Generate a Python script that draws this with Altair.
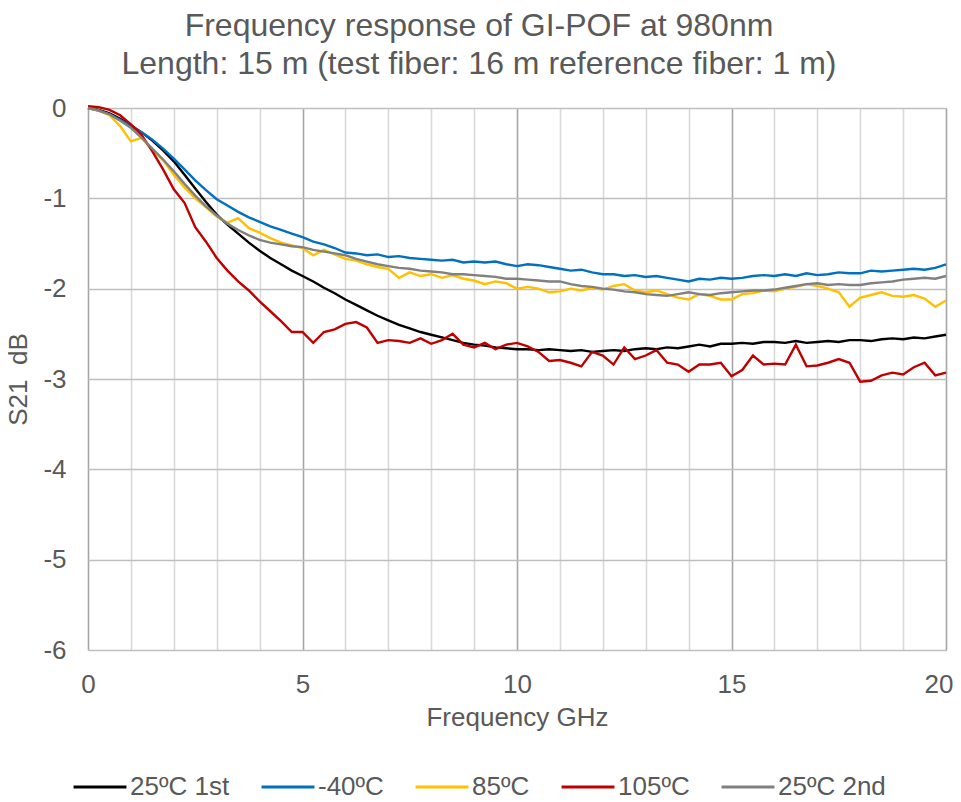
import altair as alt
import pandas as pd

# Frequency axis (GHz), 0.25 GHz steps
freq = [i * 0.25 for i in range(81)]

s21_25c_1st = [
    0.00, -0.02, -0.06, -0.12, -0.19, -0.27, -0.36, -0.47, -0.59, -0.74,
    -0.89, -1.04, -1.18, -1.29, -1.39, -1.49, -1.58, -1.66, -1.73, -1.80,
    -1.86, -1.92, -1.99, -2.05, -2.12, -2.18, -2.24, -2.30, -2.35, -2.40,
    -2.44, -2.48, -2.51, -2.54, -2.57, -2.60, -2.62, -2.63, -2.65, -2.66,
    -2.67, -2.67, -2.68, -2.67, -2.68, -2.69, -2.68, -2.70, -2.69, -2.68,
    -2.69, -2.67, -2.66, -2.67, -2.65, -2.66, -2.64, -2.62, -2.64, -2.61,
    -2.61, -2.60, -2.61, -2.59, -2.59, -2.60, -2.58, -2.60, -2.59, -2.58,
    -2.59, -2.57, -2.57, -2.58, -2.56, -2.55, -2.56, -2.54, -2.55, -2.53,
    -2.51,
]

s21_m40c = [
    0.00, -0.03, -0.07, -0.13, -0.20, -0.27, -0.35, -0.45, -0.56, -0.68,
    -0.80, -0.91, -1.01, -1.08, -1.15, -1.21, -1.26, -1.31, -1.35, -1.39,
    -1.43, -1.48, -1.51, -1.55, -1.60, -1.61, -1.63, -1.62, -1.65, -1.64,
    -1.66, -1.67, -1.68, -1.69, -1.68, -1.71, -1.70, -1.71, -1.70, -1.73,
    -1.75, -1.73, -1.74, -1.76, -1.78, -1.80, -1.79, -1.82, -1.84, -1.84,
    -1.86, -1.85, -1.87, -1.86, -1.88, -1.90, -1.92, -1.89, -1.90, -1.88,
    -1.89, -1.88, -1.86, -1.85, -1.86, -1.84, -1.86, -1.83, -1.85, -1.84,
    -1.82, -1.83, -1.83, -1.80, -1.81, -1.80, -1.79, -1.78, -1.79, -1.77,
    -1.73,
]

s21_85c = [
    0.00, -0.03, -0.08, -0.20, -0.37, -0.33, -0.46, -0.58, -0.74, -0.88,
    -1.00, -1.10, -1.20, -1.27, -1.22, -1.33, -1.38, -1.44, -1.49, -1.52,
    -1.55, -1.63, -1.57, -1.62, -1.67, -1.69, -1.73, -1.76, -1.78, -1.88,
    -1.82, -1.86, -1.84, -1.88, -1.85, -1.89, -1.91, -1.95, -1.92, -1.94,
    -2.00, -1.98, -2.00, -2.04, -2.03, -2.00, -2.02, -1.99, -2.01, -1.97,
    -1.95, -2.02, -2.04, -2.02, -2.06, -2.10, -2.12, -2.06, -2.08, -2.12,
    -2.12, -2.06, -2.05, -2.02, -2.03, -2.00, -1.98, -1.95, -1.97, -2.00,
    -2.04, -2.20, -2.10, -2.07, -2.04, -2.08, -2.09, -2.07, -2.11, -2.20,
    -2.13,
]

s21_105c = [
    0.02, 0.01, -0.02, -0.08, -0.18, -0.30, -0.48, -0.68, -0.90, -1.05,
    -1.32, -1.48, -1.66, -1.80, -1.92, -2.02, -2.14, -2.25, -2.36, -2.48,
    -2.48, -2.60, -2.48, -2.45, -2.39, -2.37, -2.43, -2.60, -2.57, -2.58,
    -2.60, -2.55, -2.61, -2.57, -2.50, -2.62, -2.65, -2.60, -2.67, -2.62,
    -2.60, -2.64, -2.70, -2.80, -2.79, -2.82, -2.86, -2.70, -2.74, -2.84,
    -2.65, -2.78, -2.74, -2.68, -2.82, -2.84, -2.92, -2.84, -2.84, -2.82,
    -2.97, -2.90, -2.74, -2.84, -2.83, -2.84, -2.62, -2.86, -2.85, -2.82,
    -2.78, -2.82, -3.03, -3.02, -2.96, -2.93, -2.95, -2.87, -2.82, -2.96,
    -2.93,
]

s21_25c_2nd = [
    0.00, -0.03, -0.07, -0.14, -0.22, -0.33, -0.45, -0.57, -0.70, -0.84,
    -0.97, -1.09, -1.19, -1.28, -1.35, -1.41, -1.46, -1.49, -1.51, -1.53,
    -1.54, -1.57, -1.59, -1.61, -1.63, -1.67, -1.70, -1.73, -1.75, -1.77,
    -1.78, -1.80, -1.81, -1.82, -1.84, -1.84, -1.85, -1.86, -1.87, -1.89,
    -1.89, -1.90, -1.91, -1.92, -1.92, -1.95, -1.97, -1.98, -2.00, -2.01,
    -2.03, -2.04, -2.06, -2.07, -2.08, -2.06, -2.04, -2.06, -2.07, -2.05,
    -2.04, -2.03, -2.02, -2.02, -2.01, -1.99, -1.97, -1.95, -1.94, -1.96,
    -1.95, -1.96, -1.96, -1.94, -1.93, -1.92, -1.90, -1.89, -1.88, -1.89,
    -1.86,
]

series_names = ["25ºC 1st", "-40ºC", "85ºC", "105ºC", "25ºC 2nd"]
series_colors = ["#000000", "#0070C0", "#FFC000", "#C00000", "#808080"]
series_values = [s21_25c_1st, s21_m40c, s21_85c, s21_105c, s21_25c_2nd]

x_ticks = list(range(0, 21))
y_ticks = list(range(-6, 1))

rows = []
for idx, (name, vals) in enumerate(zip(series_names, series_values)):
    for f, v in zip(freq, vals):
        rows.append({"freq": f, "s21": v, "series": name, "idx": idx})
df = pd.DataFrame(rows)

FONT = "Liberation Sans"
TXT = "#595959"

chart = (
    alt.Chart(df)
    .mark_line(strokeWidth=2.4, clip=False)
    .encode(
        x=alt.X(
            "freq:Q",
            scale=alt.Scale(domain=[0, 20], nice=False, zero=False),
            axis=alt.Axis(
                values=x_ticks,
                labelExpr="datum.value % 5 === 0 ? datum.label : ''",
                labelOverlap=False,
                labelFlush=False,
                labelAlign={
                    "condition": {"test": "datum.value === 20", "value": "right"},
                    "value": "center",
                },
                labelOffset={
                    "condition": {"test": "datum.value === 20", "value": 7},
                    "value": 0,
                },
                ticks=False,
                domain=False,
                labelFont=FONT,
                labelFontSize=26,
                labelColor=TXT,
                labelPadding=21,
                title="Frequency GHz",
                titleFont=FONT,
                titleFontSize=26,
                titleFontWeight="normal",
                titleColor=TXT,
                titlePadding=7,
                gridColor={
                    "condition": {"test": "datum.value % 5 === 0", "value": "#A6A6A6"},
                    "value": "#D9D9D9",
                },
                gridWidth=1.6,
            ),
        ),
        y=alt.Y(
            "s21:Q",
            scale=alt.Scale(domain=[-6, 0], nice=False, zero=False),
            axis=alt.Axis(
                values=y_ticks,
                labelExpr="datum.value < 0 ? '-' + abs(datum.value) : '' + datum.value",
                labelOverlap=False,
                labelFlush=False,
                ticks=False,
                domain=False,
                labelFont=FONT,
                labelFontSize=26,
                labelColor=TXT,
                labelPadding=22,
                title="S21\u00a0\u00a0dB",
                titleFont=FONT,
                titleFontSize=26,
                titleFontWeight="normal",
                titleColor=TXT,
                titlePadding=11,
                gridColor="#BFBFBF",
                gridWidth=1.6,
            ),
        ),
        color=alt.Color(
            "series:N",
            scale=alt.Scale(domain=series_names, range=series_colors),
            sort=series_names,
            legend=alt.Legend(
                title=None,
                orient="none",
                direction="horizontal",
                columns=5,
                legendX=-16,
                legendY=651,
                symbolType="stroke",
                symbolSize=2800,
                symbolStrokeWidth=3,
                labelFont=FONT,
                labelFontSize=26,
                labelColor=TXT,
                labelOffset=2,
                labelLimit=300,
                columnPadding=25,
            ),
        ),
        order=alt.Order("idx:Q"),
        detail="series:N",
    )
    .properties(
        width=858,
        height=542,
        autosize=alt.AutoSizeParams(type="none"),
        padding={"left": 80, "top": 100, "right": 7, "bottom": 150},
        title=alt.TitleParams(
            text=[
                "Frequency response of GI-POF at 980nm",
                "Length: 15 m (test fiber: 16 m reference fiber: 1 m)",
            ],
            font=FONT,
            fontSize=32,
            fontWeight="normal",
            color=TXT,
            anchor="middle",
            frame="group",
            dx=-38,
            lineHeight=38,
            offset=14,
        ),
    )
    .configure_view(stroke="#000000", strokeWidth=2.2)
    .configure(background="#FFFFFF")
)

chart.save("out.html", embed_options={"renderer": "svg", "actions": False})
